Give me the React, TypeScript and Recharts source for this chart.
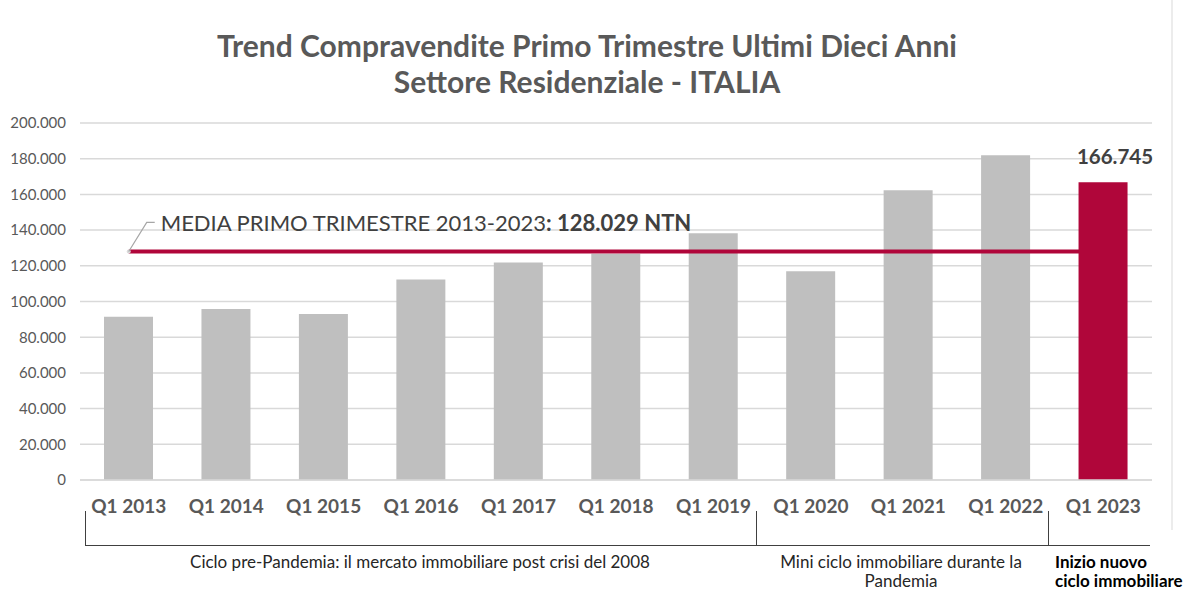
import React from 'react';
import {
  ComposedChart,
  Bar,
  Line,
  XAxis,
  YAxis,
  CartesianGrid,
  LabelList,
} from 'recharts';

const CATEGORIES = [
  'Q1 2013', 'Q1 2014', 'Q1 2015', 'Q1 2016', 'Q1 2017', 'Q1 2018',
  'Q1 2019', 'Q1 2020', 'Q1 2021', 'Q1 2022', 'Q1 2023',
];
const COMPRAVENDITE = [
  91500, 95800, 93000, 112300, 121900, 126800,
  138300, 116900, 162300, 181900, 166745,
];
const MEDIA = 128029;
const Y_TICKS = [0, 20000, 40000, 60000, 80000, 100000, 120000, 140000, 160000, 180000, 200000];

const RED = '#B0063A';
const GREY = '#BFBFBF';
const FONT = 'Lato, "Open Sans", sans-serif';

const lastIdx = CATEGORIES.length - 1;
const data = CATEGORIES.map((label, i) => ({
  label,
  grigio: i === lastIdx ? null : COMPRAVENDITE[i],
  rosso: i === lastIdx ? COMPRAVENDITE[i] : null,
  media: MEDIA,
}));

const fmt = (v: number) => String(Math.round(v)).replace(/\B(?=(\d{3})+(?!\d))/g, '.');

const MediaDot = (props: any) => {
  const { cx, cy, index } = props;
  if (index !== 0) return <g key={`d-${index}`} />;
  return (
    <g key="media-callout">
      <circle cx={cx} cy={cy} r={2} fill="#d9d9d9" />
      <polyline
        points={`${cx},${cy} ${cx + 18},${cy - 29} ${cx + 26},${cy - 29}`}
        fill="none"
        stroke="#a6a6a6"
        strokeWidth={1.2}
      />
      <text
        x={cx + 32}
        y={cy - 29}
        dominantBaseline="central"
        fontFamily={FONT}
        fontSize={22}
        fill="#404040"
      >
        MEDIA PRIMO TRIMESTRE 2013-2023
        <tspan fontWeight="bold">: {fmt(MEDIA)} NTN</tspan>
      </text>
    </g>
  );
};

export default function App() {
  return (
    <div style={{ position: 'absolute', left: 0, top: 0, width: 1186, height: 591, background: '#fff' }}>
      <ComposedChart
        width={1186}
        height={591}
        data={data}
        margin={{ top: 123, right: 34, left: 0, bottom: 81 }}
      >
        <CartesianGrid vertical={false} stroke="#d9d9d9" strokeWidth={1.5} />
        <XAxis
          dataKey="label"
          axisLine={{ stroke: '#d9d9d9', strokeWidth: 1.5 }}
          tickLine={false}
          tickSize={0}
          tickMargin={20}
          interval={0}
          tick={{ fill: '#595959', fontSize: 19, fontWeight: 'bold', fontFamily: FONT }}
        />
        <YAxis
          width={80}
          domain={[0, 200000]}
          ticks={Y_TICKS}
          axisLine={false}
          tickLine={false}
          tickSize={0}
          tickMargin={14}
          tickFormatter={fmt}
          tick={{ fill: '#595959', fontSize: 15, fontFamily: FONT }}
        />
        <Bar dataKey="grigio" stackId="a" fill={GREY} barSize={49} isAnimationActive={false} />
        <Line
          dataKey="media"
          stroke={RED}
          strokeWidth={4}
          dot={MediaDot}
          activeDot={false}
          isAnimationActive={false}
        />
        <Bar dataKey="rosso" stackId="a" fill={RED} barSize={49} isAnimationActive={false} zIndex={450}>
          <LabelList
            dataKey="rosso"
            position="top"
            offset={18}
            formatter={(v: any) => (v == null ? '' : fmt(v))}
            style={{ fill: '#404040', fontSize: 20.5, fontWeight: 'bold', fontFamily: FONT, transform: 'translateX(12px)' }}
          />
        </Bar>
      </ComposedChart>
      <svg
        width={1186}
        height={591}
        style={{ position: 'absolute', left: 0, top: 0, pointerEvents: 'none' }}
      >
        <text x={587} y={45} textAnchor="middle" dominantBaseline="central" fontFamily={FONT} fontSize={30} fontWeight="bold" fill="#595959">
          Trend Compravendite Primo Trimestre Ultimi Dieci Anni
        </text>
        <text x={587} y={81} textAnchor="middle" dominantBaseline="central" fontFamily={FONT} fontSize={30} fontWeight="bold" fill="#595959">
          Settore Residenziale - ITALIA
        </text>
        <line x1={1172} y1={0} x2={1172} y2={530} stroke="#d9d9d9" strokeWidth={1} />
        <g stroke="#404040" strokeWidth={1}>
          <line x1={85.5} y1={511} x2={85.5} y2={545} />
          <line x1={756.5} y1={511} x2={756.5} y2={545} />
          <line x1={1048.5} y1={511} x2={1048.5} y2={545} />
          <line x1={85} y1={545.5} x2={1150} y2={545.5} />
        </g>
        <g fontFamily={FONT} fontSize={17} fill="#262626">
          <text x={420} y={561} textAnchor="middle" dominantBaseline="central">
            Ciclo pre-Pandemia: il mercato immobiliare post crisi del 2008
          </text>
          <text x={901} y={561} textAnchor="middle" dominantBaseline="central">
            Mini ciclo immobiliare durante la
          </text>
          <text x={901} y={580} textAnchor="middle" dominantBaseline="central">
            Pandemia
          </text>
          <text x={1055} y={561} dominantBaseline="central" fontWeight="bold" fill="#000">
            Inizio nuovo
          </text>
          <text x={1055} y={580} dominantBaseline="central" fontWeight="bold" fill="#000">
            ciclo immobiliare
          </text>
        </g>
      </svg>
    </div>
  );
}
